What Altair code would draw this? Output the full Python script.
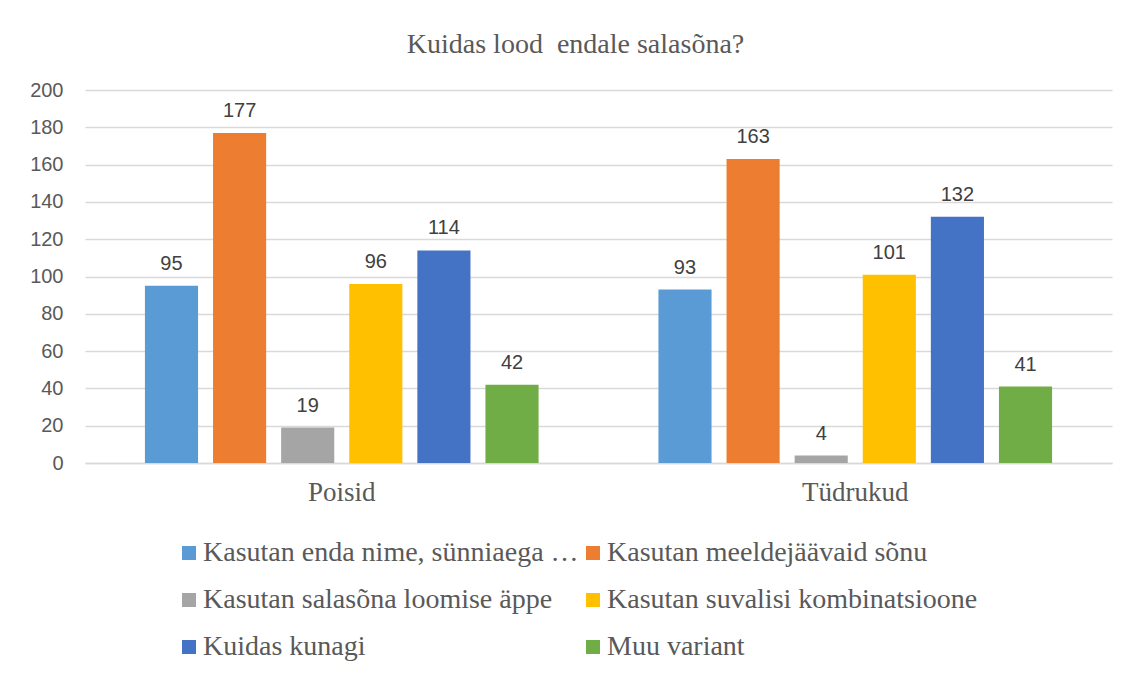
import altair as alt
import pandas as pd

groups = ["Poisid", "Tüdrukud"]
series = [
    "Kasutan enda nime, sünniaega …",
    "Kasutan meeldejäävaid sõnu",
    "Kasutan salasõna loomise äppe",
    "Kasutan suvalisi kombinatsioone",
    "Kuidas kunagi",
    "Muu variant",
]
poisid = [95, 177, 19, 96, 114, 42]
tudrukud = [93, 163, 4, 101, 132, 41]
colors = ["#5B9BD5", "#ED7D31", "#A5A5A5", "#FFC000", "#4472C4", "#70AD47"]
y_ticks = [0, 20, 40, 60, 80, 100, 120, 140, 160, 180, 200]

rows = []
for g, vals in zip(groups, [poisid, tudrukud]):
    for s, v in zip(series, vals):
        rows.append({"grupp": g, "vastus": s, "arv": v})
df = pd.DataFrame(rows)

y_enc = alt.Y("arv:Q", title=None,
              scale=alt.Scale(domain=[0, 200]),
              axis=alt.Axis(values=y_ticks, labelFont="Liberation Sans",
                            labelFontSize=20, labelColor="#595959", labelPadding=22,
                            labelOverlap=False,
                            ticks=False, domain=False, gridColor="#d9d9d9", gridWidth=1.5))

base = alt.Chart(df).encode(
    x=alt.X("grupp:N", sort=groups, title=None,
            scale=alt.Scale(paddingInner=0, paddingOuter=0),
            axis=alt.Axis(labelAngle=0, labelFont="Liberation Serif", labelFontSize=27,
                          labelColor="#595959", labelPadding=16, ticks=False,
                          domainColor="#d9d9d9", domainWidth=1.5)),
    xOffset=alt.XOffset("vastus:N", sort=series,
                        scale=alt.Scale(paddingInner=0.22, paddingOuter=0.88)),
    y=y_enc,
)

bars = base.mark_bar().encode(
    color=alt.Color("vastus:N", sort=series,
                    scale=alt.Scale(domain=series, range=colors),
                    legend=alt.Legend(title=None, orient="none", legendX=90, legendY=449,
                                      columns=2, direction="horizontal",
                                      symbolType="square", symbolSize=196,
                                      symbolStrokeWidth=0,
                                      labelFont="Liberation Serif", labelFontSize=28,
                                      labelColor="#595959", labelLimit=600,
                                      rowPadding=19, columnPadding=0, labelOffset=0)),
)

labels = base.mark_text(baseline="bottom", dy=-12, font="Liberation Sans",
                        fontSize=20, color="#404040").encode(
    text="arv:Q",
)

chart = (bars + labels).properties(
    width=1027, height=373,
    title=alt.TitleParams("Kuidas lood\u00a0 endale salasõna?", font="Liberation Serif",
                          fontSize=28, fontWeight="normal", color="#595959", offset=21,
                          dx=-23),
    autosize=alt.AutoSizeParams(type="none"),
    padding={"left": 77, "top": 82, "right": 10, "bottom": 200},
).configure_view(stroke=None)

chart.save("out.html", embed_options={"renderer": "svg", "actions": False})
